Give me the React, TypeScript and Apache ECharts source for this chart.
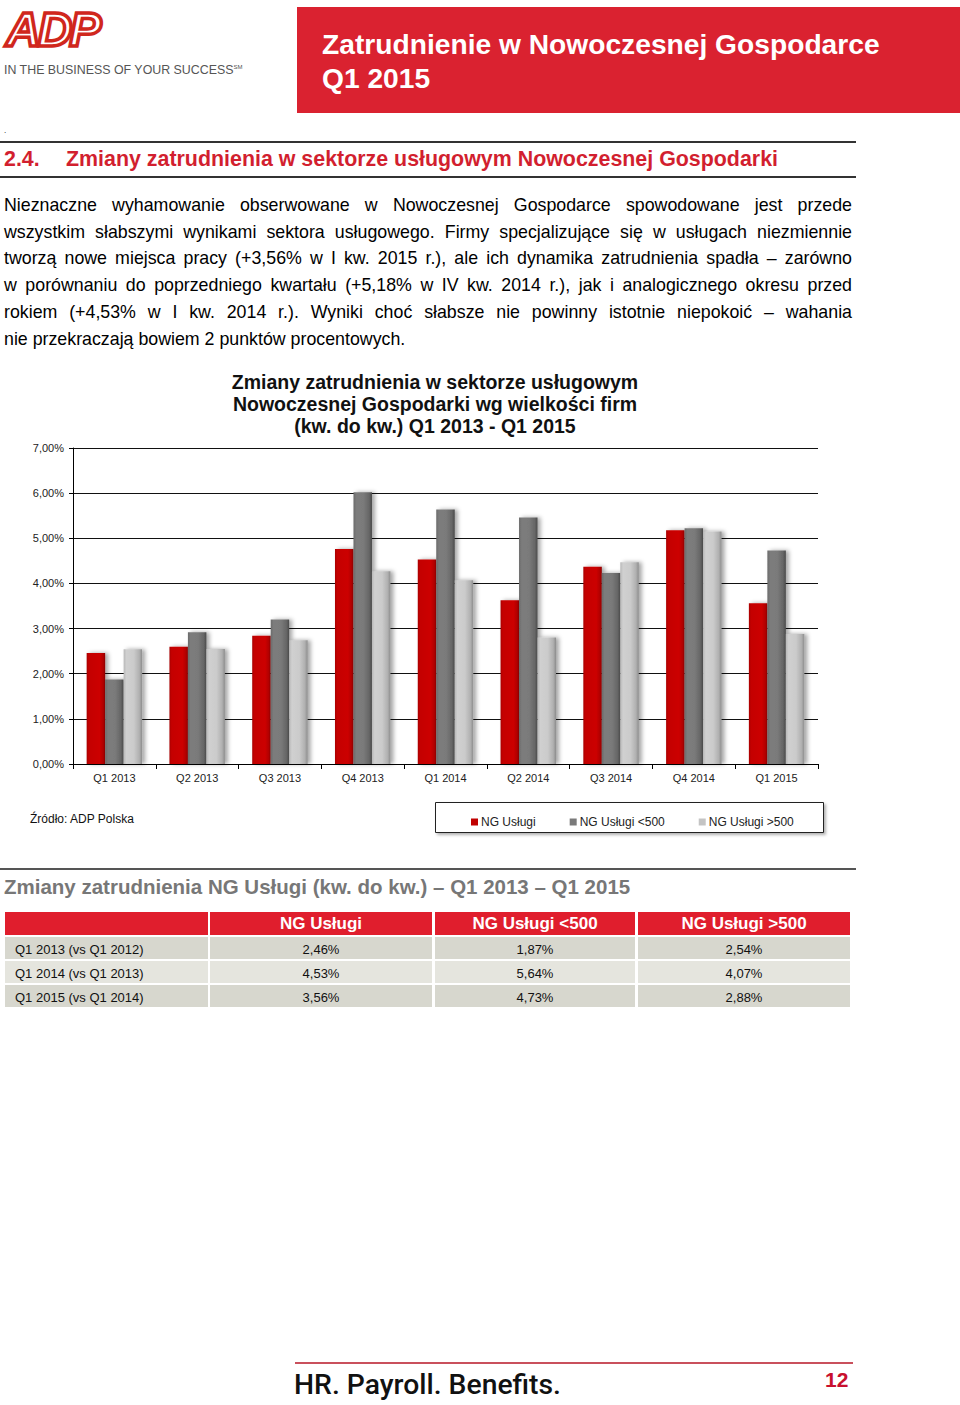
import React, { useEffect, useRef } from "react";
import * as echarts from "echarts";

const categories = ["Q1 2013", "Q2 2013", "Q3 2013", "Q4 2013", "Q1 2014", "Q2 2014", "Q3 2014", "Q4 2014", "Q1 2015"];
const ngUslugi = [2.46, 2.6, 2.84, 4.76, 4.53, 3.63, 4.37, 5.18, 3.56];
const ngUslugiLt500 = [1.87, 2.92, 3.2, 6.02, 5.64, 5.46, 4.23, 5.22, 4.73];
const ngUslugiGt500 = [2.54, 2.55, 2.74, 4.27, 4.07, 2.8, 4.47, 5.15, 2.88];
const seriesNames = ["NG Usługi", "NG Usługi <500", "NG Usługi >500"];
const yTicks = [0, 1, 2, 3, 4, 5, 6, 7];

const tableHeader = ["", "NG Usługi", "NG Usługi <500", "NG Usługi >500"];
const tableRowLabels = ["Q1 2013 (vs Q1 2012)", "Q1 2014 (vs Q1 2013)", "Q1 2015 (vs Q1 2014)"];
const tableNg = ["2,46%", "4,53%", "3,56%"];
const tableLt500 = ["1,87%", "5,64%", "4,73%"];
const tableGt500 = ["2,54%", "4,07%", "2,88%"];

const paragraphLines = [
  "Nieznaczne wyhamowanie obserwowane w Nowoczesnej Gospodarce spowodowane jest przede",
  "wszystkim słabszymi wynikami sektora usługowego. Firmy specjalizujące się w usługach niezmiennie",
  "tworzą nowe miejsca pracy (+3,56% w I kw. 2015 r.), ale ich dynamika zatrudnienia spadła – zarówno",
  "w porównaniu do poprzedniego kwartału (+5,18% w IV kw. 2014 r.), jak i analogicznego okresu przed",
  "rokiem (+4,53% w I kw. 2014 r.). Wyniki choć słabsze nie powinny istotnie niepokoić – wahania",
  "nie przekraczają bowiem 2 punktów procentowych.",
];

const chartTitle = [
  "Zmiany zatrudnienia w sektorze usługowym",
  "Nowoczesnej Gospodarki wg wielkości firm",
  "(kw. do kw.) Q1 2013 - Q1 2015",
];

const SANS = "'Liberation Sans', Arial, sans-serif";
const NARROW = "'Liberation Sans Narrow', 'Arial Narrow', 'Liberation Sans', sans-serif";

function Chart() {
  const ref = useRef<HTMLDivElement>(null);
  useEffect(() => {
    if (!ref.current) return;
    const chart = echarts.init(ref.current, undefined, { renderer: "svg" });
    const grad = (stops: [number, string][]) =>
      new echarts.graphic.LinearGradient(0, 0, 1, 0, stops.map(([offset, color]) => ({ offset, color })));
    const colors = [
      grad([[0, "#a80000"], [0.12, "#c40000"], [0.7, "#cc0000"], [0.9, "#b00000"], [1, "#8a0000"]]),
      grad([[0, "#6a6a6a"], [0.15, "#7c7c7c"], [0.55, "#7a7a7a"], [0.85, "#666666"], [1, "#4a4a4a"]]),
      grad([[0, "#b8b8b8"], [0.15, "#d0d0d0"], [0.55, "#cbcbcb"], [0.85, "#b0b0b0"], [1, "#8c8c8c"]]),
    ];
    const legendColors = ["#c00000", "#7a7a7a", "#c4c4c4"];
    const datasets = [ngUslugi, ngUslugiLt500, ngUslugiGt500];
    chart.setOption({
      animation: false,
      textStyle: { fontFamily: SANS },
      grid: { left: 73, top: 88, width: 745, height: 316 },
      graphic: [
        ...chartTitle.map((t, i) => ({
          type: "text",
          x: 435,
          y: 22 + i * 22,
          style: {
            text: t,
            textAlign: "center",
            textVerticalAlign: "middle",
            font: `bold 19.5px ${SANS}`,
            fill: "#111",
          },
        })),
        {
          type: "rect",
          shape: { x: 435.5, y: 442.5, width: 388, height: 30 },
          style: { fill: "#fff", stroke: "#222", lineWidth: 1, shadowBlur: 3, shadowOffsetX: 2, shadowOffsetY: 2, shadowColor: "rgba(0,0,0,0.3)" },
        },
        {
          type: "text",
          x: 30,
          y: 459,
          style: { text: "Źródło: ADP Polska", textVerticalAlign: "middle", font: `12px ${NARROW}`, fill: "#111" },
        },
      ],
      legend: {
        left: 466,
        top: 451,
        itemWidth: 7,
        itemHeight: 7,
        itemGap: 34,
        icon: "rect",
        textStyle: { fontSize: 12, fontFamily: NARROW, color: "#222", padding: [0, 0, 0, -2] },
        data: seriesNames.map((n, i) => ({ name: n, itemStyle: { color: legendColors[i] } })),
        z: 10,
      },
      xAxis: {
        type: "category",
        data: categories,
        axisLine: { lineStyle: { color: "#000", width: 1 } },
        axisTick: { show: true, length: 5, lineStyle: { color: "#000" } },
        axisLabel: { color: "#222", fontSize: 11, margin: 8 },
      },
      yAxis: {
        type: "value",
        min: 0,
        max: 7,
        interval: 1,
        axisLine: { show: true, lineStyle: { color: "#000" } },
        axisTick: { show: true, length: 4, lineStyle: { color: "#000" } },
        splitLine: { show: true, lineStyle: { color: "#111", width: 1 } },
        axisLabel: {
          color: "#222",
          fontSize: 11,
          margin: 9,
          formatter: (v: number) => (yTicks.includes(v) ? v.toFixed(2).replace(".", ",") + "%" : ""),
        },
      },
      series: datasets.map((d, i) => ({
        name: seriesNames[i],
        type: "bar",
        data: d,
        barGap: "0%",
        barCategoryGap: "33%",
        itemStyle: {
          color: colors[i],
          shadowBlur: 4,
          shadowOffsetX: 3,
          shadowOffsetY: 0,
          shadowColor: "rgba(0,0,0,0.35)",
        },
      })),
    });
    return () => chart.dispose();
  }, []);
  return <div ref={ref} style={{ position: "absolute", left: 0, top: 360, width: 860, height: 490 }} />;
}

export default function App() {
  const colLeft = [5, 210, 435, 638];
  const colWidth = [203, 222, 200, 212];
  const rowTop = [937, 961, 985];
  const rowColors = ["#d7d7ce", "#e5e5de", "#d7d7ce"];
  const rows = tableRowLabels.map((l, i) => [l, tableNg[i], tableLt500[i], tableGt500[i]]);
  return (
    <div style={{ position: "absolute", left: 0, top: 0, width: 960, height: 1405, background: "#fff", fontFamily: SANS, color: "#000", overflow: "hidden" }}>
      {/* Logo */}
      <div style={{ position: "absolute", left: 6, top: 1, fontSize: 48, fontWeight: 900, fontStyle: "italic", color: "#fff", WebkitTextStroke: "3.5px #d0271d", letterSpacing: -3, fontFamily: SANS, lineHeight: "58px" }}>
        ADP
      </div>
      <div style={{ position: "absolute", left: 4, top: 63, fontSize: 12.4, color: "#555", fontFamily: NARROW, whiteSpace: "nowrap" }}>
        IN THE BUSINESS OF YOUR SUCCESS<sup style={{ fontSize: 6 }}>SM</sup>
      </div>
      {/* Header */}
      <div style={{ position: "absolute", left: 297, top: 7, width: 663, height: 106, background: "#da2230" }} />
      <div style={{ position: "absolute", left: 322, top: 27, color: "#fff", fontWeight: 700, fontSize: 28.2, lineHeight: "34px", whiteSpace: "nowrap" }}>
        Zatrudnienie w Nowoczesnej Gospodarce
        <br />
        Q1 2015
      </div>
      {/* Section heading */}
      <div style={{ position: "absolute", left: 4, top: 126, fontSize: 8 }}>.</div>
      <div style={{ position: "absolute", left: 0, top: 141, width: 856, height: 2, background: "#333" }} />
      <div style={{ position: "absolute", left: 4, top: 147, fontSize: 21.4, fontWeight: 700, color: "#d21f2f", whiteSpace: "nowrap" }}>
        2.4.
      </div>
      <div style={{ position: "absolute", left: 66, top: 147, fontSize: 21.4, fontWeight: 700, color: "#d21f2f", whiteSpace: "nowrap" }}>
        Zmiany zatrudnienia w sektorze usługowym Nowoczesnej Gospodarki
      </div>
      <div style={{ position: "absolute", left: 0, top: 176, width: 856, height: 2, background: "#333" }} />
      {/* Paragraph */}
      {paragraphLines.map((line, i) => (
        <div
          key={i}
          style={{
            position: "absolute",
            left: 4,
            top: 193 + i * 26.7,
            width: 848,
            fontSize: 17.8,
            lineHeight: "24px",
            textAlign: "justify",
            textAlignLast: i === paragraphLines.length - 1 ? "left" : "justify",
            whiteSpace: "nowrap",
          } as React.CSSProperties}
        >
          {line}
        </div>
      ))}
      <Chart />
      {/* Table section */}
      <div style={{ position: "absolute", left: 0, top: 868, width: 856, height: 2, background: "#555" }} />
      <div style={{ position: "absolute", left: 4, top: 875, fontSize: 20.5, fontWeight: 700, color: "#777", fontFamily: NARROW, whiteSpace: "nowrap" }}>
        Zmiany zatrudnienia NG Usługi (kw. do kw.) – Q1 2013 – Q1 2015
      </div>
      {tableHeader.map((h, c) => (
        <div key={"h" + c} style={{ position: "absolute", left: colLeft[c], top: 912, width: colWidth[c], height: 23, background: "#e01e2d", color: "#fff", fontWeight: 700, fontSize: 17, lineHeight: "24px", textAlign: "center" }}>
          {h}
        </div>
      ))}
      {rows.map((r, ri) =>
        r.map((cell, c) => (
          <div
            key={ri + "-" + c}
            style={{
              position: "absolute",
              left: colLeft[c],
              top: rowTop[ri],
              width: colWidth[c] - (c === 0 ? 10 : 0),
              paddingLeft: c === 0 ? 10 : 0,
              height: 22,
              background: rowColors[ri],
              fontSize: 13,
              lineHeight: "25px",
              textAlign: c === 0 ? "left" : "center",
              color: "#111",
            }}
          >
            {cell}
          </div>
        ))
      )}
      {/* Footer */}
      <div style={{ position: "absolute", left: 295, top: 1362, width: 558, height: 2, background: "#c9505c" }} />
      <div style={{ position: "absolute", left: 294, top: 1368, fontSize: 28.3, fontWeight: 500, fontFamily: "Roboto, 'Noto Sans', sans-serif", color: "#111", whiteSpace: "nowrap" }}>
        HR. Payroll. Benefits.
      </div>
      <div style={{ position: "absolute", left: 825, top: 1368, fontSize: 21, fontWeight: 700, color: "#c8102e" }}>12</div>
    </div>
  );
}
